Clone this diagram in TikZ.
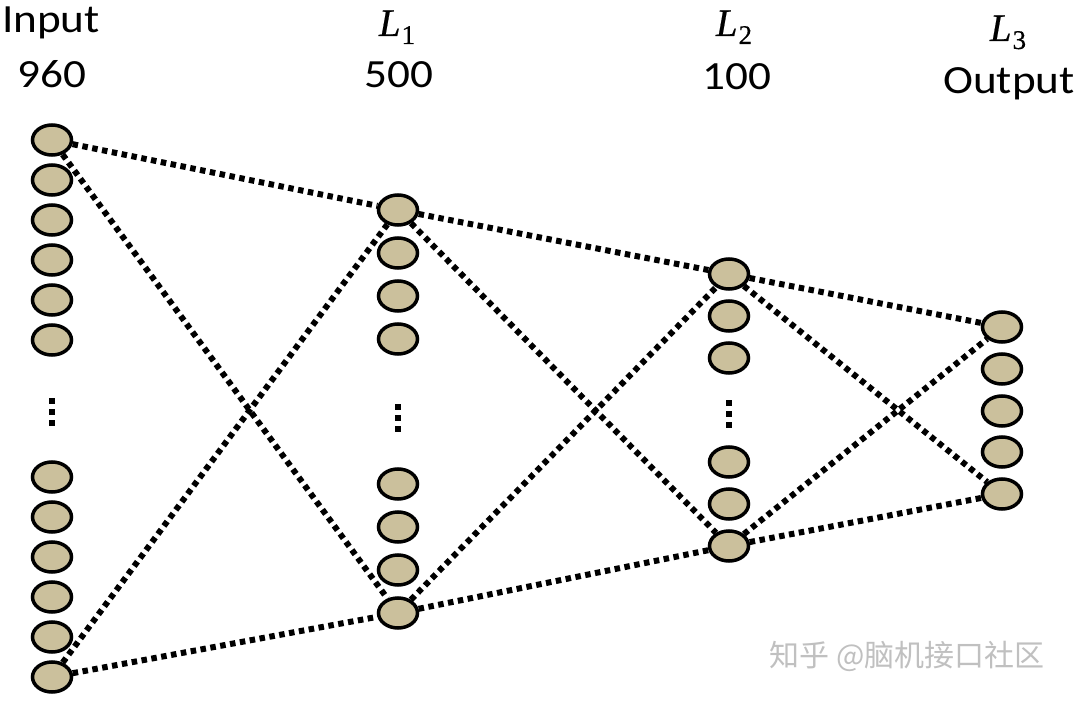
\documentclass[tikz,border=0pt]{standalone}
\usepackage{fontspec}
\newfontfamily\labfont[FakeStretch=1.13]{Carlito}
\newfontfamily\cambriaish[FakeBold=0.4]{Liberation Serif}
\newfontfamily\cjkfont{Noto Sans CJK SC}
\usetikzlibrary{shapes.geometric}
\definecolor{neuronfill}{RGB}{203,192,156}
\definecolor{wmgray}{RGB}{192,192,192}
\newcommand{\layername}[1]{{\cambriaish\fontsize{39}{44}\selectfont\itshape L}\kern1pt\raisebox{-8pt}{\cambriaish\fontsize{27}{30}\selectfont #1}}
\tikzset{
  neuron/.style={ellipse, draw=black, line width=3.5pt, fill=neuronfill,
    minimum width=39pt, minimum height=30pt, inner sep=0pt},
  conn/.style={line width=6pt, dash pattern=on 5.5pt off 4.5pt, draw=black},
  lab/.style={font=\labfont\fontsize{40}{48}\selectfont, anchor=base, inner sep=0pt},
  mlab/.style={anchor=base, inner sep=0pt},
  wmark/.style={font=\cjkfont\fontsize{30}{36}\selectfont, text=wmgray, anchor=base, inner sep=0pt},
  vdot/.style={fill=black},
}
\begin{document}
\begin{tikzpicture}[x=1pt, y=-1pt]
\useasboundingbox (0,0) rectangle (1080,701);
\fill[white] (0,0) rectangle (1080,701);

% labels
\node[lab] (tin) at (51,33) {Input};
\node[lab] (nin) at (52,88) {960};
\node[mlab] (t1) at (397,36) {\layername{1}};
\node[lab] (n1) at (399,88) {500};
\node[mlab] (t2) at (734,36) {\layername{2}};
\node[lab] (n2) at (737,89) {100};
\node[mlab] (t3) at (1008,41) {\layername{3}};
\node[lab] (n3) at (1009,93) {Output};

% input layer
\foreach \y [count=\i] in {140,180,220,260,300,340,477,517,557,597,637,677}
  \node[neuron] (in\i) at (52,\y) {};
% hidden layer 1
\foreach \y [count=\i] in {210,253,296,339,484,527,570,613}
  \node[neuron] (ha\i) at (398,\y) {};
% hidden layer 2
\foreach \y [count=\i] in {274,316,358,462,504,546}
  \node[neuron] (hb\i) at (729,\y) {};
% output layer
\foreach \y [count=\i] in {327,369,411,452,494}
  \node[neuron] (out\i) at (1002,\y) {};

% vertical ellipses (dots)
\foreach \x/\ya in {52/401, 398/407, 729/403}
  \foreach \k in {0,1,2}
    \fill[vdot] ({\x-3},{\ya+11*\k-3}) rectangle ++(6,6);

% connectors
\draw[conn] (in1) -- (ha1);
\draw[conn] (in1) -- (ha8);
\draw[conn] (in12) -- (ha1);
\draw[conn] (in12) -- (ha8);
\draw[conn] (ha1) -- (hb1);
\draw[conn] (ha1) -- (hb6);
\draw[conn] (ha8) -- (hb1);
\draw[conn] (ha8) -- (hb6);
\draw[conn] (hb1) -- (out1);
\draw[conn] (hb1) -- (out5);
\draw[conn] (hb6) -- (out1);
\draw[conn] (hb6) -- (out5);

% watermark
\node[wmark] (wm) at (907,666) {知乎 @脑机接口社区};
\end{tikzpicture}
\end{document}
